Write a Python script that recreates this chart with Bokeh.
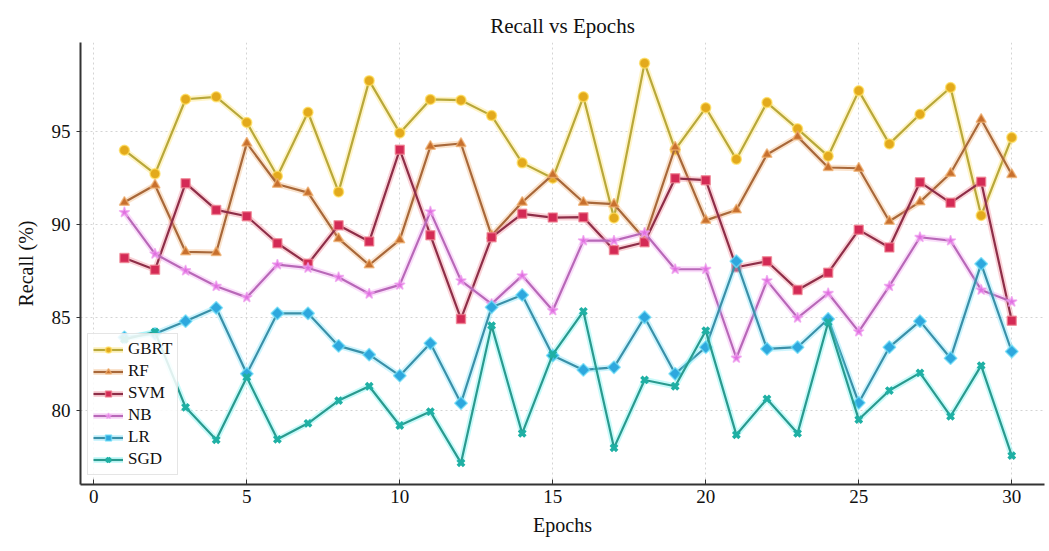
from bokeh.plotting import figure
from bokeh.models import Legend, LegendItem, FixedTicker, Range1d
from bokeh.embed import file_html
from bokeh.resources import INLINE

epochs = list(range(1, 31))
gbrt = [93.97, 92.7, 96.71, 96.84, 95.46, 92.57, 96.01, 91.73, 97.71, 94.9,
        96.7, 96.66, 95.83, 93.29, 92.46, 96.84, 90.33, 98.65, 94.0, 96.25,
        93.48, 96.53, 95.12, 93.65, 97.16, 94.31, 95.9, 97.34, 90.46, 94.65]
rf = [91.17, 92.1, 88.5, 88.47, 94.35, 92.14, 91.69, 89.22, 87.8, 89.15,
      94.18, 94.33, 89.38, 91.17, 92.66, 91.17, 91.07, 89.2, 94.13, 90.2,
      90.76, 93.74, 94.7, 93.04, 93.0, 90.15, 91.19, 92.73, 95.63, 92.66]
svm = [88.18, 87.54, 92.2, 90.76, 90.42, 88.97, 87.86, 89.94, 89.06, 94.0,
       89.4, 84.9, 89.29, 90.55, 90.35, 90.37, 88.61, 89.02, 92.46, 92.36,
       87.68, 88.0, 86.46, 87.38, 89.69, 88.74, 92.25, 91.14, 92.27, 84.8]
nb = [90.63, 88.4, 87.5, 86.66, 86.06, 87.82, 87.64, 87.14, 86.25, 86.73,
      90.67, 86.96, 85.71, 87.23, 85.35, 89.11, 89.11, 89.53, 87.57, 87.57,
      82.8, 86.96, 84.96, 86.28, 84.22, 86.66, 89.29, 89.11, 86.46, 85.82]
lr = [83.91, 84.1, 84.78, 85.5, 81.95, 85.2, 85.2, 83.45, 82.98, 81.85,
      83.59, 80.37, 85.53, 86.19, 82.93, 82.16, 82.3, 84.99, 81.95, 83.38,
      88.0, 83.29, 83.38, 84.9, 80.39, 83.38, 84.78, 82.79, 87.86, 83.15]
sgd = [83.8, 84.2, 80.15, 78.4, 81.76, 78.43, 79.29, 80.51, 81.28, 79.17,
       79.92, 77.16, 84.54, 78.75, 83.0, 85.31, 77.97, 81.62, 81.28, 84.27,
       78.67, 80.6, 78.75, 84.72, 79.49, 81.05, 82.0, 79.67, 82.39, 77.55]

names = ["GBRT", "RF", "SVM", "NB", "LR", "SGD"]
series = [gbrt, rf, svm, nb, lr, sgd]
line_colors = ["#b8a83a", "#a8683a", "#8e2e48", "#b868b8", "#3a90a8", "#2a9a8e"]
marker_colors = ["#e3aa1c", "#c8702e", "#d42a55", "#e070e0", "#2ea8de", "#1fb0a4"]
glow_colors = ["#ffe060", "#f0b070", "#f08090", "#f0a0f0", "#70e0f8", "#60f0f0"]
markers = ["circle", "triangle", "square", "star", "square", "x"]
angles = [0, 0, 0, 0, 0.785398, 0]
sizes = [10, 10, 9, 11, 9, 9]

FONT = "Liberation Serif"

p = figure(width=1049, height=551, output_backend="svg", toolbar_location=None,
           x_range=Range1d(-0.435, 31.07), y_range=Range1d(76.0, 99.76),
           min_border_left=80, min_border_right=5, min_border_top=42,
           min_border_bottom=67)

p.title.text = "Recall vs Epochs"
p.title.align = "center"
p.title.text_font = FONT
p.title.text_font_size = "21px"
p.title.text_font_style = "normal"
p.title.text_color = "#111111"
p.title.offset = 30

p.outline_line_color = None
p.background_fill_color = "white"

p.xaxis.ticker = FixedTicker(ticks=[0, 5, 10, 15, 20, 25, 30])
p.yaxis.ticker = FixedTicker(ticks=[80, 85, 90, 95])
p.xaxis.axis_label = "Epochs"
p.yaxis.axis_label = "Recall (%)"
for ax in (p.xaxis, p.yaxis):
    ax.axis_label_text_font = FONT
    ax.axis_label_text_font_size = "20px"
    ax.axis_label_text_font_style = "normal"
    ax.axis_label_text_color = "#111111"
    ax.major_label_text_font = FONT
    ax.major_label_text_font_size = "19px"
    ax.major_label_text_color = "#111111"
    ax.axis_line_color = "#333333"
    ax.axis_line_width = 2
    ax.major_tick_line_color = "#333333"
    ax.minor_tick_line_color = None
p.xaxis.major_tick_in = 5
p.xaxis.major_tick_out = 0
p.yaxis.major_tick_in = 0
p.yaxis.major_tick_out = 4
p.xaxis.axis_label_standoff = 8
p.yaxis.axis_label_standoff = 12
p.yaxis.major_label_standoff = 6

p.xgrid.ticker = FixedTicker(ticks=[0, 5, 10, 15, 20, 25, 30])
p.ygrid.ticker = FixedTicker(ticks=[80, 85, 90, 95])
p.grid.grid_line_color = "#d4d4d4"
p.grid.grid_line_dash = "2 3"
p.grid.grid_line_width = 1

items = []
for name, ys, lc, mc, gc, mk, ang, sz in zip(names, series, line_colors, marker_colors,
                                            glow_colors, markers, angles, sizes):
    glow = p.line(epochs, ys, line_color=gc, line_width=6, line_alpha=0.35)
    ln = p.line(epochs, ys, line_color=lc, line_width=2.2)
    if mk == "x":
        sc = p.scatter(epochs, ys, marker=mk, size=sz, line_color=mc, line_width=3.5)
    else:
        sc = p.scatter(epochs, ys, marker=mk, size=sz, angle=ang, fill_color=mc,
                       line_color=gc, line_width=1.5, line_alpha=0.7)
    items.append(LegendItem(label=name, renderers=[glow, ln, sc]))

legend = Legend(items=items, location=(7, 9))
legend.label_text_font = FONT
legend.label_text_font_size = "17px"
legend.label_text_color = "#111111"
legend.label_height = 15
legend.label_standoff = 5
legend.glyph_width = 30
legend.glyph_height = 15
legend.spacing = 2
legend.padding = 5
legend.margin = 0
legend.border_line_color = "#cccccc"
legend.border_line_width = 1
legend.background_fill_alpha = 0.85
p.add_layout(legend)

open("out.html", "w").write(file_html(p, INLINE))
